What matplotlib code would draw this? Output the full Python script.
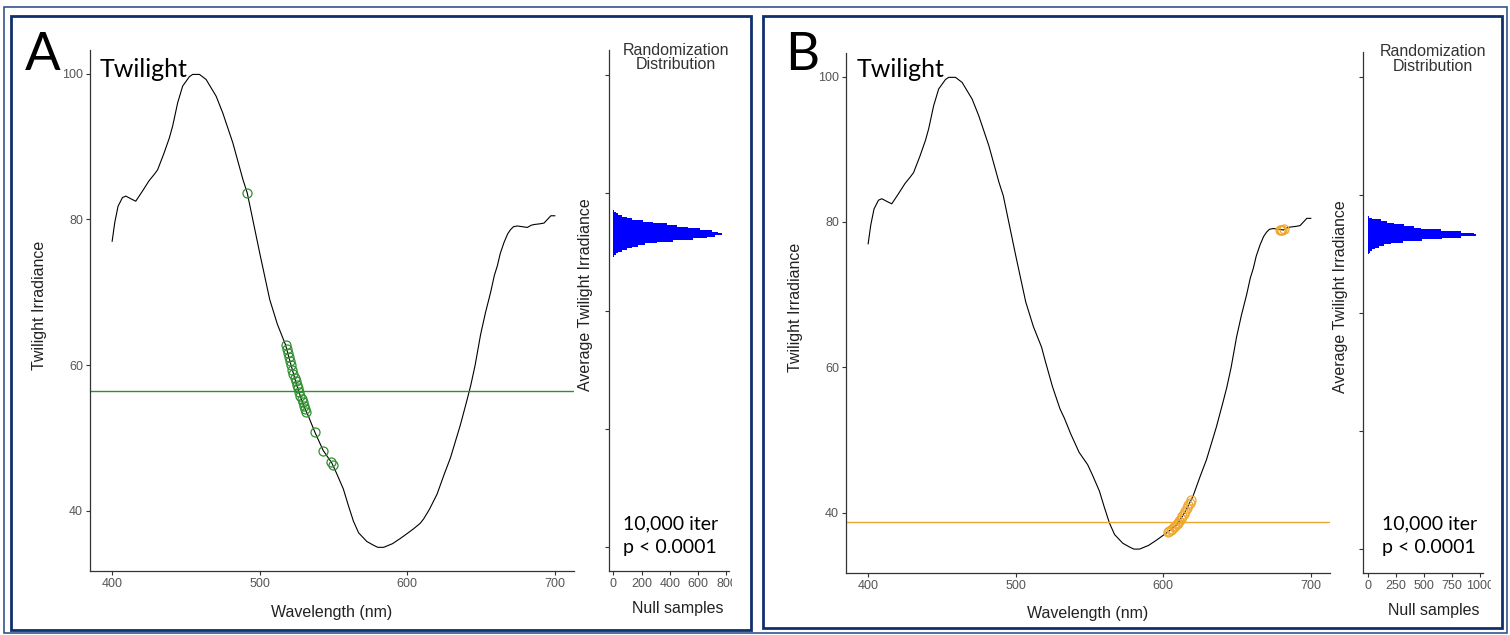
import numpy as np
import matplotlib.pyplot as plt
from matplotlib.patches import Rectangle
from matplotlib.transforms import Bbox, TransformedBbox

W, H = 1510, 635

# twilight irradiance spectrum
wavelength = [400, 401.8, 404, 407, 409.3, 413, 416, 420.6, 425, 428.6, 430.8, 435,
              438.8, 441, 444.4, 447.8, 452.4, 454.6, 459.2, 463.7, 470.5, 475,
              481.8, 488.6, 491.6, 500, 506.8, 512, 517.5, 520, 525, 530, 533,
              537.4, 543, 548.8, 552, 556.7, 560, 563.5, 567, 572.6, 577, 580,
              584, 590, 595.2, 600, 604, 608.8, 611.1, 615, 620.2, 625, 629.3,
              636, 640.6, 643, 646, 649.7, 653, 656.5, 659, 661, 663, 665.5, 668,
              670, 672, 674.6, 678, 681.4, 684, 686, 690, 692.7, 695, 697.3, 700]
irradiance = [77.0, 79.6, 81.8, 83.0, 83.2, 82.8, 82.5, 83.9, 85.3, 86.2, 86.8, 89.0,
              91.2, 92.8, 96.0, 98.3, 99.6, 99.9, 99.9, 99.2, 96.9, 94.6,
              90.5, 85.5, 83.6, 75.4, 69.0, 65.6, 62.8, 60.9, 57.3, 54.3, 53.0,
              50.8, 48.3, 46.6, 45.2, 43.0, 40.8, 38.6, 37.0, 35.8, 35.3, 35.0,
              35.0, 35.5, 36.2, 36.9, 37.5, 38.3, 38.9, 40.2, 42.3, 45.0, 47.3,
              51.8, 55.3, 57.2, 60.0, 64.2, 67.2, 70.0, 72.3, 73.6, 75.3, 76.8, 78.0,
              78.6, 79.0, 79.1, 79.0, 78.9, 79.2, 79.3, 79.4, 79.5, 80.0, 80.5, 80.5]

# panel A selected points
green_wl = [491.6, 517.5, 518.3, 519.0, 519.8, 520.5, 521.3, 522.0, 522.8, 523.6,
            524.4, 525.2, 526.0, 526.8, 527.6, 528.4, 529.2, 530.0, 530.8, 531.6,
            537.4, 543.0, 548.4, 549.4]
green_irr = [83.6, 62.8, 62.2, 61.6, 61.1, 60.6, 60.0, 59.4, 58.8, 58.3,
             57.8, 57.3, 56.8, 56.3, 55.8, 55.3, 54.9, 54.4, 54.0, 53.6,
             50.8, 48.2, 46.7, 46.3]
green_mean = 56.4

# panel B selected points
orange_wl = [603, 604, 605, 606, 607, 608, 609, 610, 611, 612, 613, 614, 615, 616,
             617, 618, 619, 679.2, 680.0, 680.8, 681.6]
orange_irr = [37.3, 37.5, 37.6, 37.8, 38.0, 38.2, 38.4, 38.6, 38.9, 39.2, 39.5, 39.8,
              40.2, 40.6, 41.0, 41.4, 41.8, 78.9, 78.9, 78.9, 79.0]
orange_mean = 38.7

# randomization distributions (null samples per bin, bottom to top)
null_ticks = [60, 65, 70, 75, 80]
hist_a_start = 72.34
hist_a_bin = 0.0705
hist_a_counts = [7, 19, 35, 59, 94, 130, 177, 224, 306, 424, 565, 660, 719, 770,
                 742, 695, 613, 530, 448, 377, 283, 212, 130, 94, 59, 35, 19, 7]
hist_b_start = 72.51
hist_b_bin = 0.0707
hist_b_counts = [6, 18, 36, 63, 96, 140, 200, 314, 478, 657, 827, 962, 947, 827,
                 648, 469, 409, 320, 230, 170, 110, 36, 6]
count_ticks_a = [0, 200, 400, 600, 800]
count_ticks_b = [0, 250, 500, 750, 1000]

SANS = 'Liberation Sans'
CAL = 'Lato'
GREEN = '#2f8f2f'
ORANGE = '#eea62c'

fig = plt.figure(figsize=(W / 100, H / 100), dpi=100)


def px_axes(x0, y0, x1, y1):
    return fig.add_axes([x0 / W, 1 - y1 / H, (x1 - x0) / W, (y1 - y0) / H])


def style(ax):
    for s in ['top', 'right']:
        ax.spines[s].set_visible(False)
    for s in ['left', 'bottom']:
        ax.spines[s].set_color('#333333')
        ax.spines[s].set_linewidth(0.9)
    ax.tick_params(direction='out', length=3, width=0.8, color='#333333',
                   labelcolor='#555555', labelsize=9, pad=2)
    for lbl in ax.get_xticklabels() + ax.get_yticklabels():
        lbl.set_family(SANS)


def main_panel(box, pts_x, pts_y, mean, color, label_x):
    ax = px_axes(*box)
    ax.plot(wavelength, irradiance, color='black', lw=0.8)
    ax.axhline(mean, color=color, lw=1.0)
    ax.plot(pts_x, pts_y, 'o', mfc='none', mec=color, ms=6.5, mew=0.9)
    ax.set_xlim(385, 713)
    ax.set_ylim(31.75, 103.25)
    ax.set_xticks([400, 500, 600, 700])
    ax.set_yticks([40, 60, 80, 100])
    style(ax)
    ax.set_xlabel('Wavelength (nm)', family=SANS, fontsize=11.5, color='#222222')
    ax.set_ylabel('Twilight Irradiance', family=SANS, fontsize=11.5, color='#222222')
    ax.xaxis.set_label_coords(0.5, -0.065)
    ax.yaxis.set_label_coords(label_x, 0.51)
    return ax


def hist_panel(box, start, width, counts, xlim, xticks, title_x, null_x, clip_x):
    ax = px_axes(*box)
    centers = start + width * np.arange(len(counts))
    ax.barh(centers, counts, height=width, color='#0000ff', edgecolor='none')
    ax.set_xlim(*xlim)
    ax.set_ylim(59.0, 81.05)
    ax.set_xticks(xticks)
    ax.set_yticks(null_ticks)
    ax.set_yticklabels([])
    style(ax)
    ax.set_ylabel('Average Twilight Irradiance', family=SANS, fontsize=11.5,
                  color='#222222')
    ax.yaxis.set_label_coords(-0.13, 0.53)
    ax.text(null_x, -0.072, 'Null samples', transform=ax.transAxes, ha='center',
            va='center', family=SANS, fontsize=11.5, color='#222222')
    ax.text(title_x, 0.986, 'Randomization\nDistribution', transform=ax.transAxes,
            ha='center', va='center', family=SANS, fontsize=11.5, color='#333333',
            linespacing=0.95)
    clip = TransformedBbox(Bbox([[0, 0], [clip_x / W, 1]]), fig.transFigure)
    for t in ax.xaxis.get_major_ticks():
        t.label1.set_clip_box(clip)
        t.label1.set_clip_on(True)
    return ax


main_panel((90, 50, 574, 571), green_wl, green_irr, green_mean, GREEN, -0.089)
hist_panel((609, 50, 729, 571), hist_a_start, hist_a_bin, hist_a_counts,
           (-30.4, 817.7), count_ticks_a, 0.557, 0.575, 732)
main_panel((846, 53, 1330, 572.7), orange_wl, orange_irr, orange_mean, ORANGE,
           -0.089)
hist_panel((1363.3, 51.7, 1483.3, 572.7), hist_b_start, hist_b_bin, hist_b_counts,
           (-44.8, 1030), count_ticks_b, 0.577, 0.588, 1491)


def ftext(x, y, s, **kw):
    fig.text(x / W, 1 - y / H, s, **kw)


ftext(25, 70, 'A', family=CAL, fontsize=38, va='baseline', ha='left')
ftext(785, 70, 'B', family=CAL, fontsize=38, va='baseline', ha='left')
ftext(100, 76.7, 'Twilight', family=CAL, fontsize=18, va='baseline', ha='left')
ftext(857, 76.7, 'Twilight', family=CAL, fontsize=18, va='baseline', ha='left')
for x0 in (623, 1382):
    ftext(x0, 524, '10,000 iter', family=CAL, fontsize=14, va='center', ha='left')
    ftext(x0, 548, 'p < 0.0001', family=CAL, fontsize=14, va='center', ha='left')


def frame(x0, y0, x1, y1, color, lw):
    fig.patches.append(Rectangle((x0 / W, 1 - y1 / H), (x1 - x0) / W, (y1 - y0) / H,
                                 fill=False, ec=color, lw=lw,
                                 transform=fig.transFigure, figure=fig))


frame(4, 7, 1507, 633, '#35558f', 1.2)
frame(11, 16, 751, 630, '#10306c', 2.0)
frame(763, 16, 1502, 628, '#10306c', 2.0)

fig.savefig('out.png', dpi=100)
